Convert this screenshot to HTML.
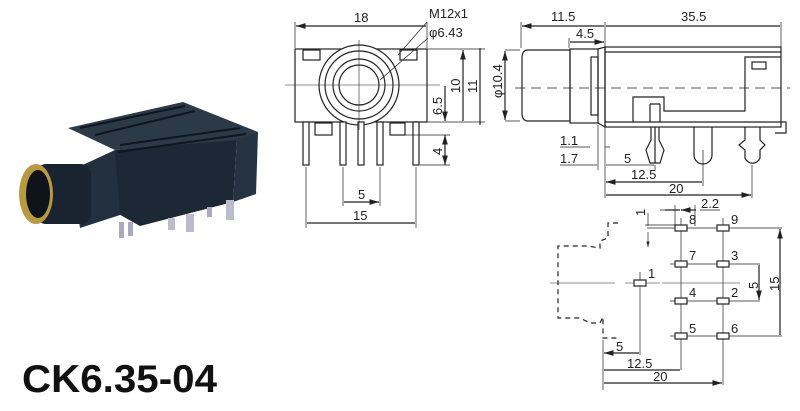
<!DOCTYPE html>
<html><head><meta charset="utf-8"><style>html,body{margin:0;padding:0;background:#fff}svg{display:block}</style></head><body>
<svg width="800" height="411" viewBox="0 0 800 411" xmlns="http://www.w3.org/2000/svg" font-family="Liberation Sans, sans-serif" font-size="13" fill="none" stroke="#222" stroke-width="1.2">
<defs><marker id="a" viewBox="0 0 10 6" refX="10" refY="3" markerWidth="8" markerHeight="5" orient="auto-start-reverse"><path d="M0,0L10,3L0,6z" fill="#222" stroke="none"/></marker></defs>
<!-- photo -->
<g stroke="none">
<polygon points="68,128 183,102 258,132 236,142 115,150" fill="#2c3a48"/>
<polygon points="115,150 237,140 233,202 140,226 115,212" fill="#1c2836"/>
<polygon points="237,140 258,132 256,194 233,202" fill="#243242"/>
<polygon points="72,170 115,150 120,215 80,228" fill="#223040"/>
<rect x="36" y="164" width="55" height="60" rx="10" fill="#1a2430"/>
<ellipse cx="36" cy="194" rx="17" ry="30" fill="#b89a40"/>
<ellipse cx="38" cy="194" rx="12" ry="24" fill="#0e141a"/>
<rect x="119" y="222" width="5" height="16" fill="#aab"/><rect x="128" y="222" width="5" height="14" fill="#aab"/>
<rect x="168" y="218" width="7" height="12" fill="#bbc"/><rect x="186" y="214" width="8" height="18" fill="#bbc"/>
<rect x="207" y="207" width="5" height="10" fill="#aab"/><rect x="226" y="200" width="8" height="20" fill="#bbc"/>
</g>
<path d="M80,128L185,106M95,135L195,111M120,145L240,128M118,152L246,134" stroke="#0e1620" stroke-width="2"/>
<g fill="#111" stroke="none"><text x="22" y="392" font-size="39" font-weight="bold" textLength="195" lengthAdjust="spacingAndGlyphs">CK6.35-04</text></g>
<!-- front view -->
<rect x="295" y="49" width="132" height="73"/>
<circle cx="359" cy="85" r="40" fill="#fff"/><circle cx="359" cy="85" r="34"/><circle cx="359" cy="85" r="26"/><circle cx="359" cy="85" r="20"/>
<rect x="303" y="50" width="17" height="10"/><rect x="400" y="50" width="17" height="10"/>
<rect x="315" y="123" width="17" height="12"/><rect x="390" y="123" width="15" height="12"/>
<g fill="#fff"><rect x="303" y="122" width="6" height="43"/><rect x="340" y="122" width="6" height="43"/><rect x="358" y="122" width="6" height="43"/><rect x="377" y="122" width="6" height="43"/><rect x="413" y="122" width="6" height="43"/></g>
<path d="M285,85H440M359,40V130" stroke-width="0.6"/>
<path d="M295,22V48M427,22V48M306,167V228M416,167V228M343,167V206M380,167V206" stroke-width="0.7"/>
<path d="M296,26H426M307,223H415M344,202H379" marker-start="url(#a)" marker-end="url(#a)"/>
<path d="M427,22L398,55M428,38L380,80" stroke-width="0.7"/>
<path d="M427,49H485M427,122H485M405,135H450M420,165H450" stroke-width="0.7"/>
<path d="M463,50V121M480,48V125M445,86V121" marker-start="url(#a)" marker-end="url(#a)"/>
<path d="M445,135V165" marker-start="url(#a)" marker-end="url(#a)"/>
<g fill="#222" stroke="none">
<text x="354" y="22">18</text><text x="429" y="18">M12x1</text><text x="429" y="37">φ6.43</text>
<text x="358" y="199">5</text><text x="353" y="220">15</text>
<text transform="translate(460,93) rotate(-90)">10</text><text transform="translate(477,93) rotate(-90)">11</text>
<text transform="translate(442,115) rotate(-90)">6.5</text><text transform="translate(442,155) rotate(-90)">4</text>
</g>
<!-- side view -->
<path d="M528,50H570V121H528Q522,121 522,113V58Q522,50 528,50Z"/>
<rect x="570" y="49" width="28" height="74"/>
<path d="M598,49L605,47V127L598,123"/>
<rect x="591" y="57" width="7" height="58"/>
<rect x="605" y="47" width="176" height="80"/>
<path d="M605,52H781M605,122H781"/>
<path d="M633,122V97H664V111H745V57H781"/>
<rect x="752" y="62" width="14" height="7"/>
<path d="M781,122L786,122V133H775"/>
<path d="M515,88H790" stroke-dasharray="10,6" stroke-width="0.7"/>
<path d="M650,104V122M660,104V122M650,104H660"/>
<path d="M651,127V140L646,150L650,163H660L664,150L659,140V127M655,127V163"/>
<path d="M694,127V155A9,9 0 0 0 712,155V127"/>
<path d="M745,127V140L739,145L745,150V158A8,8 0 0 0 760,158V150L765,145L760,140V127"/>
<path d="M521,22V48M605,22V47M781,22V47M569,38V48M505,50H520M505,121H520" stroke-width="0.7"/>
<path d="M522,26H604M606,26H780M570,42H604" marker-start="url(#a)" marker-end="url(#a)"/>
<path d="M505,51V120" marker-start="url(#a)" marker-end="url(#a)"/>
<path d="M598,125V170M605,125V198M655,165V170M703,150V186M752,165V198" stroke-width="0.7"/>
<path d="M560,147H590M605,147H610M560,165H597M606,165H654" stroke-width="0.7"/>
<path d="M606,182H702M606,195H751" marker-start="url(#a)" marker-end="url(#a)"/>
<g fill="#222" stroke="none">
<text x="551" y="21">11.5</text><text x="681" y="21">35.5</text><text x="576" y="38">4.5</text>
<text transform="translate(502,98) rotate(-90)">φ10.4</text>
<text x="560" y="145">1.1</text><text x="560" y="163">1.7</text><text x="624" y="163">5</text><text x="631" y="179">12.5</text><text x="669" y="193">20</text>
</g>
<!-- footprint -->
<path d="M618,223H608V238L600,241V248L587,246H558V318H580L590,323H600L603,317V338H620" stroke-dasharray="5,4"/>
<path d="M550,283H615M625,283H660M662,283H740" stroke-width="0.6"/>
<path d="M681,218V370M723,218V385M640,272V355M603,340V390" stroke-width="0.7"/>
<path d="M647,228H782M670,264H760M670,301H760M670,336H782M645,225H680" stroke-width="0.7"/>
<path d="M648,213V226M648,232V247" stroke-width="0.7" marker-end="url(#a)"/>
<path d="M660,210H676M700,210H720" stroke-width="0.7"/>
<path d="M665,210H680M696,210H681" marker-end="url(#a)"/>
<path d="M675,205V228M695,205V226" stroke-width="0.7"/>
<path d="M780,229V335M759,265V300" marker-start="url(#a)" marker-end="url(#a)"/>
<path d="M604,353H639M604,370H680M604,383H722" marker-start="url(#a)" marker-end="url(#a)"/>
<g fill="#fff"><rect x="675" y="225" width="12" height="6"/><rect x="717" y="225" width="12" height="6"/><rect x="675" y="261" width="12" height="6"/><rect x="717" y="261" width="12" height="6"/><rect x="634" y="280" width="12" height="6"/><rect x="675" y="298" width="12" height="6"/><rect x="717" y="298" width="12" height="6"/><rect x="675" y="333" width="12" height="6"/><rect x="717" y="333" width="12" height="6"/></g>
<g fill="#222" stroke="none">
<text x="689" y="224">8</text><text x="731" y="224">9</text><text x="689" y="260">7</text><text x="731" y="260">3</text><text x="648" y="278">1</text>
<text x="689" y="297">4</text><text x="731" y="297">2</text><text x="689" y="333">5</text><text x="731" y="333">6</text>
<text x="701" y="208">2.2</text><text transform="translate(645,216) rotate(-90)">1</text>
<text transform="translate(779,291) rotate(-90)">15</text><text transform="translate(758,289) rotate(-90)">5</text>
<text x="616" y="351">5</text><text x="627" y="368">12.5</text><text x="653" y="381">20</text>
</g>
</svg>
</body></html>
